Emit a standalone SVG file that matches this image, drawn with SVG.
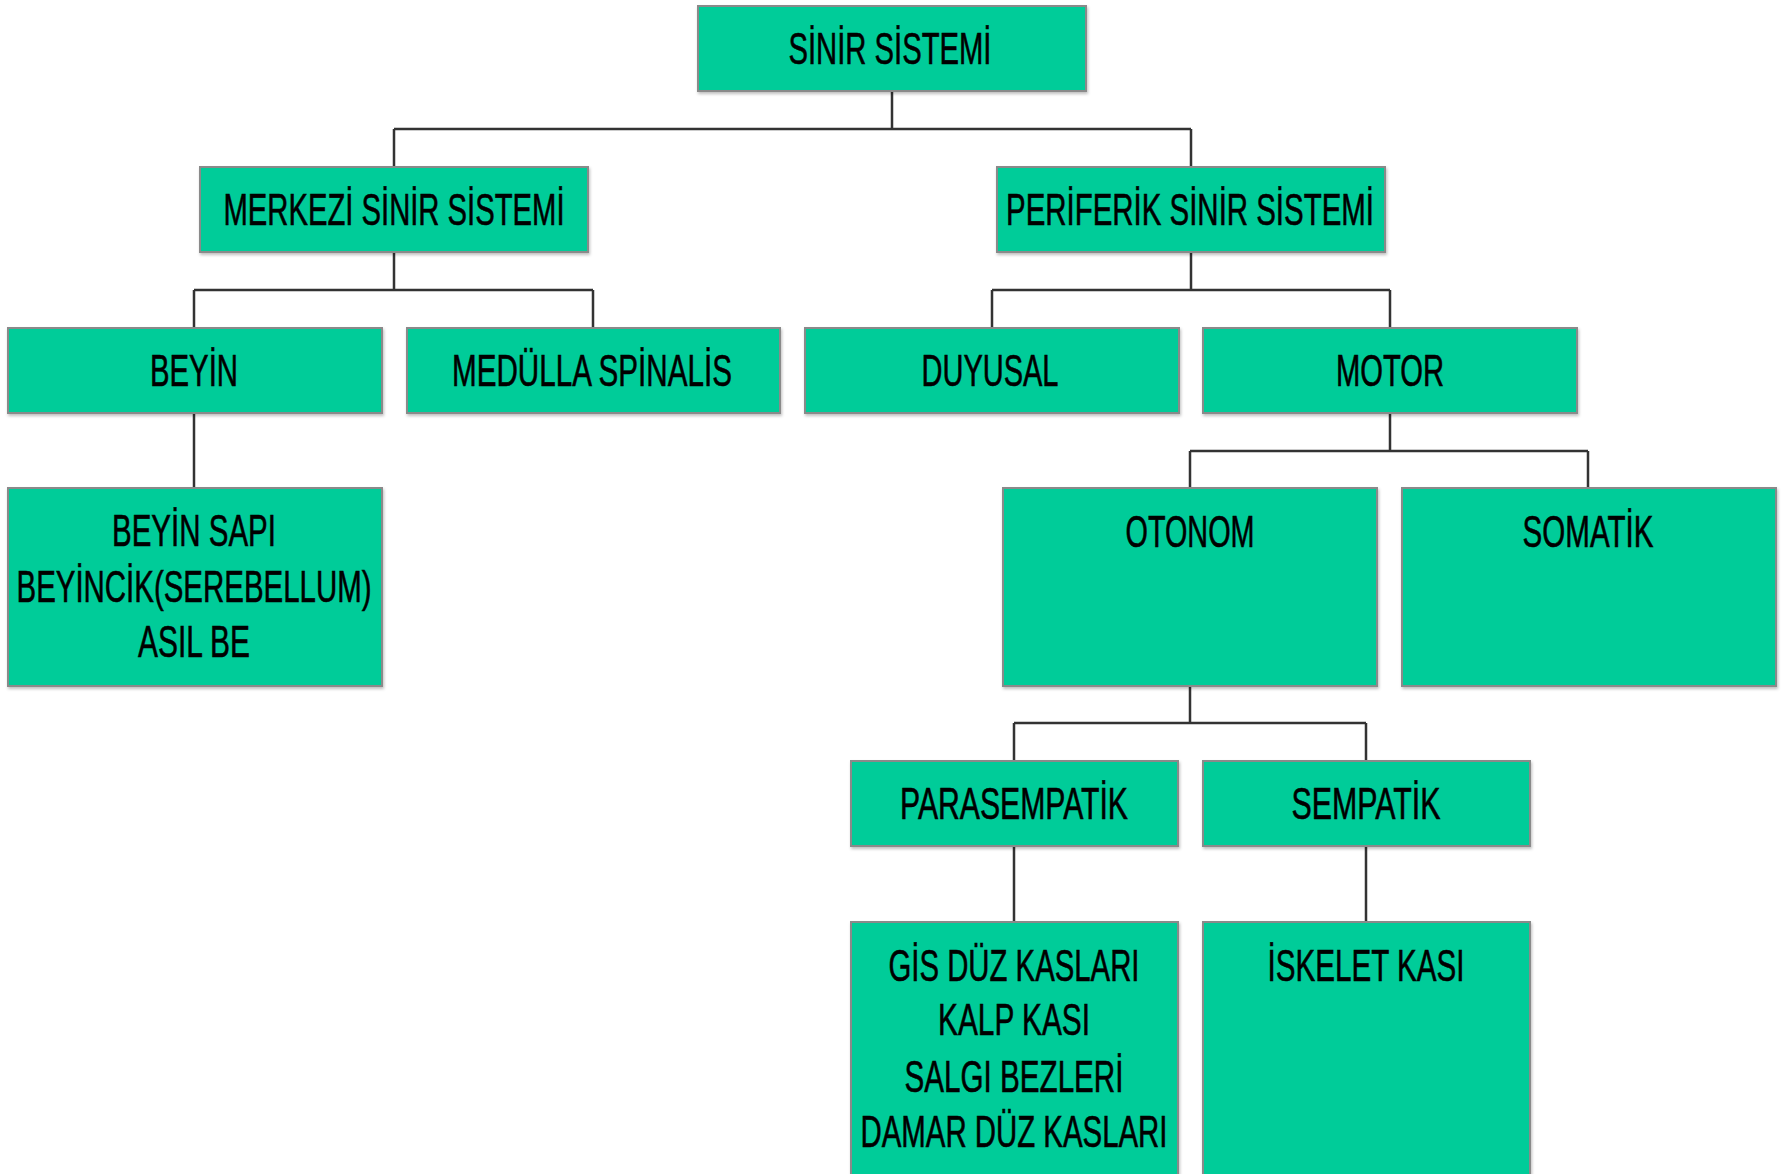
<svg xmlns="http://www.w3.org/2000/svg" width="1791" height="1174" viewBox="0 0 1791 1174">
<style>
.box{fill:#00CC99;stroke:#8a8a8a;stroke-width:2}
.t{font-family:"Liberation Sans",Arial,sans-serif;font-size:45px;fill:#000;stroke:#000;stroke-width:0.6;text-anchor:middle}
.c{fill:none;stroke:#333;stroke-width:2.5}
</style>
<defs>
<filter id="sh" x="-5%" y="-5%" width="110%" height="115%">
<feDropShadow dx="1" dy="2" stdDeviation="1.5" flood-color="#000" flood-opacity="0.25"/>
</filter>
</defs>
<rect width="1791" height="1174" fill="#fff"/>
<g id="connectors">
<path class="c" d="M892 91V129M394 129H1191M394 129V167M1191 129V167"/>
<path class="c" d="M394 252V290M194 290H593M194 290V328M593 290V328"/>
<path class="c" d="M1191 252V290M992 290H1390M992 290V328M1390 290V328"/>
<path class="c" d="M194 413V488"/>
<path class="c" d="M1390 413V451M1190 451H1588M1190 451V488M1588 451V488"/>
<path class="c" d="M1190 686V723M1014 723H1366M1014 723V761M1366 723V761"/>
<path class="c" d="M1014 846V922M1366 846V922"/>
</g>
<g id="sinir-sistemi"><rect class="box" filter="url(#sh)" x="698" y="6" width="388" height="85"/><text class="t" x="890" y="64" textLength="203" lengthAdjust="spacingAndGlyphs">SİNİR SİSTEMİ</text></g>
<g id="merkezi"><rect class="box" filter="url(#sh)" x="200" y="167" width="388" height="85"/><text class="t" x="394" y="225" textLength="341" lengthAdjust="spacingAndGlyphs">MERKEZİ SİNİR SİSTEMİ</text></g>
<g id="periferik"><rect class="box" filter="url(#sh)" x="997" y="167" width="388" height="85"/><text class="t" x="1190" y="225" textLength="368" lengthAdjust="spacingAndGlyphs">PERİFERİK SİNİR SİSTEMİ</text></g>
<g id="beyin"><rect class="box" filter="url(#sh)" x="8" y="328" width="374" height="85"/><text class="t" x="194" y="386" textLength="88" lengthAdjust="spacingAndGlyphs">BEYİN</text></g>
<g id="medulla"><rect class="box" filter="url(#sh)" x="407" y="328" width="373" height="85"/><text class="t" x="592" y="386" textLength="280" lengthAdjust="spacingAndGlyphs">MEDÜLLA SPİNALİS</text></g>
<g id="duyusal"><rect class="box" filter="url(#sh)" x="805" y="328" width="374" height="85"/><text class="t" x="990" y="386" textLength="137" lengthAdjust="spacingAndGlyphs">DUYUSAL</text></g>
<g id="motor"><rect class="box" filter="url(#sh)" x="1203" y="328" width="374" height="85"/><text class="t" x="1390" y="386" textLength="108" lengthAdjust="spacingAndGlyphs">MOTOR</text></g>
<g id="beyin-sapi"><rect class="box" filter="url(#sh)" x="8" y="488" width="374" height="198"/>
<text class="t" x="194" y="546" textLength="164" lengthAdjust="spacingAndGlyphs">BEYİN SAPI</text>
<text class="t" x="194" y="602" textLength="355" lengthAdjust="spacingAndGlyphs">BEYİNCİK(SEREBELLUM)</text>
<text class="t" x="194" y="657" textLength="112" lengthAdjust="spacingAndGlyphs">ASIL BE</text></g>
<g id="otonom"><rect class="box" filter="url(#sh)" x="1003" y="488" width="374" height="198"/><text class="t" x="1190" y="547" textLength="129" lengthAdjust="spacingAndGlyphs">OTONOM</text></g>
<g id="somatik"><rect class="box" filter="url(#sh)" x="1402" y="488" width="374" height="198"/><text class="t" x="1588" y="547" textLength="131" lengthAdjust="spacingAndGlyphs">SOMATİK</text></g>
<g id="parasempatik"><rect class="box" filter="url(#sh)" x="851" y="761" width="327" height="85"/><text class="t" x="1014" y="819" textLength="228" lengthAdjust="spacingAndGlyphs">PARASEMPATİK</text></g>
<g id="sempatik"><rect class="box" filter="url(#sh)" x="1203" y="761" width="327" height="85"/><text class="t" x="1366" y="819" textLength="149" lengthAdjust="spacingAndGlyphs">SEMPATİK</text></g>
<g id="gis"><rect class="box" filter="url(#sh)" x="851" y="922" width="327" height="262"/>
<text class="t" x="1014" y="981" textLength="251" lengthAdjust="spacingAndGlyphs">GİS DÜZ KASLARI</text>
<text class="t" x="1014" y="1035" textLength="152" lengthAdjust="spacingAndGlyphs">KALP KASI</text>
<text class="t" x="1014" y="1092" textLength="219" lengthAdjust="spacingAndGlyphs">SALGI BEZLERİ</text>
<text class="t" x="1014" y="1147" textLength="307" lengthAdjust="spacingAndGlyphs">DAMAR DÜZ KASLARI</text></g>
<g id="iskelet"><rect class="box" filter="url(#sh)" x="1203" y="922" width="327" height="262"/><text class="t" x="1366" y="981" textLength="197" lengthAdjust="spacingAndGlyphs">İSKELET KASI</text></g>
</svg>
